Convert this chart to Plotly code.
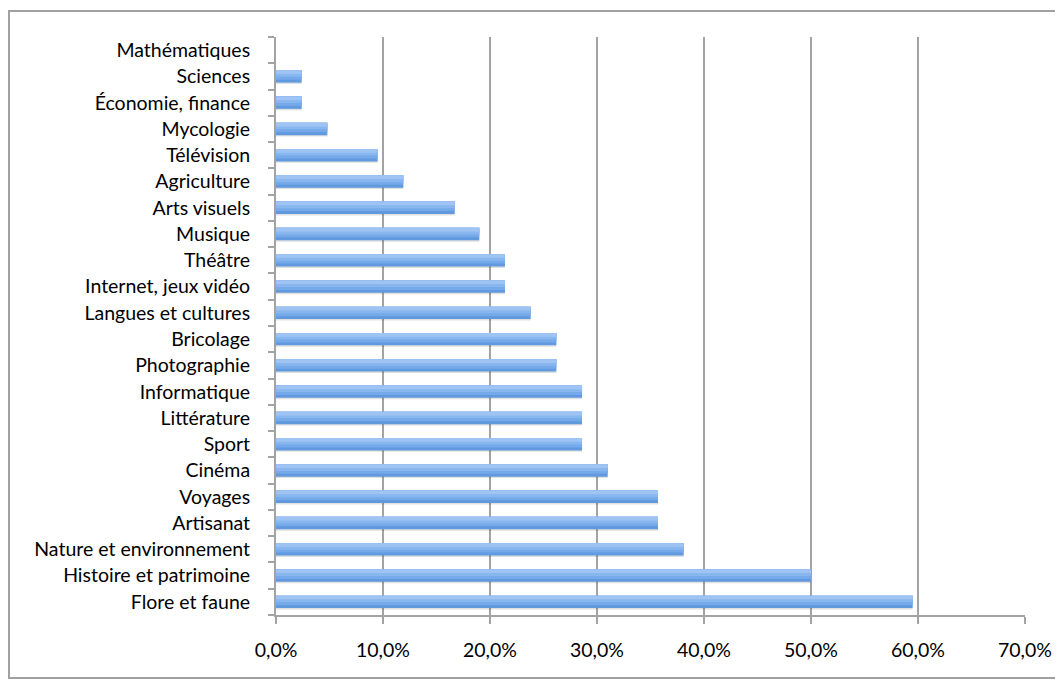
import plotly.graph_objects as go

categories = ["Flore et faune", "Histoire et patrimoine", "Nature et environnement", "Artisanat",
              "Voyages", "Cinéma", "Sport", "Littérature", "Informatique", "Photographie",
              "Bricolage", "Langues et cultures", "Internet, jeux vidéo", "Théâtre", "Musique",
              "Arts visuels", "Agriculture", "Télévision", "Mycologie", "Économie, finance",
              "Sciences", "Mathématiques"]
values = [0.595, 0.500, 0.381, 0.357, 0.357, 0.310, 0.286, 0.286, 0.286, 0.262,
          0.262, 0.238, 0.214, 0.214, 0.190, 0.167, 0.119, 0.095, 0.048, 0.024,
          0.024, 0.0]
x_ticks = [0, 0.1, 0.2, 0.3, 0.4, 0.5, 0.6, 0.7]

GRID = "#a3a3a3"
FONT = "Lato"

# page body has 8px margin -> offset figure
OX, OY = 8, 8
W, H = 1063 - OX, 681 - OY
L, T = 276 - OX, 37 - OY
PW, PH = 749, 578
R, B = W - L - PW, H - T - PH

fig = go.Figure()
# shadow
fig.add_trace(go.Bar(y=categories, x=values, orientation="h", width=0.08, offset=-0.29,
                     marker=dict(color="rgba(0,0,0,0.12)", line=dict(width=0)),
                     hoverinfo="skip", showlegend=False))
# gradient layers (darker bottom, lighter top)
fig.add_trace(go.Bar(y=categories, x=values, orientation="h", width=0.47, offset=-0.235,
                     marker=dict(color="#6099de", line=dict(width=0)),
                     hoverinfo="x+y", showlegend=False))
fig.add_trace(go.Bar(y=categories, x=values, orientation="h", width=0.36, offset=-0.125,
                     marker=dict(color="#75a9e9", line=dict(width=0)),
                     hoverinfo="skip", showlegend=False))
fig.add_trace(go.Bar(y=categories, x=values, orientation="h", width=0.25, offset=-0.015,
                     marker=dict(color="#88b6ee", line=dict(width=0)),
                     hoverinfo="skip", showlegend=False))
fig.add_trace(go.Bar(y=categories, x=values, orientation="h", width=0.14, offset=0.095,
                     marker=dict(color="#9fc4f4", line=dict(width=0)),
                     hoverinfo="skip", showlegend=False))

fig.update_layout(
    width=W, height=H,
    margin=dict(l=L, r=R, t=T, b=B),
    paper_bgcolor="white", plot_bgcolor="white",
    barmode="overlay",
    separators=", ",
    font=dict(family=FONT, size=19.5, color="#000000"),
    xaxis=dict(
        range=[0, 0.7], tickvals=x_ticks, tickformat=".1%",
        showgrid=True, gridcolor=GRID, gridwidth=2,
        showline=True, linecolor=GRID, linewidth=2,
        ticks="outside", ticklen=7, tickwidth=2, tickcolor=GRID,
        ticklabelstandoff=10, zeroline=False, fixedrange=True,
    ),
    yaxis=dict(
        type="category", categoryorder="array", categoryarray=categories,
        showgrid=False, showline=True, linecolor=GRID, linewidth=2,
        ticks="outside", ticklen=6, tickwidth=2, tickcolor=GRID,
        tickson="boundaries", ticklabelstandoff=20, fixedrange=True,
        range=[-0.5, len(categories) - 0.5],
    ),
    shapes=[dict(type="rect", xref="paper", yref="paper",
                 x0=(9 - 276) / PW, x1=(1060 - 276) / PW,
                 y0=(615 - 678) / PH, y1=(615 - 11) / PH,
                 line=dict(color="#a0a0a0", width=2), fillcolor="rgba(0,0,0,0)", layer="below")],
)

fig.write_html("out.html")
